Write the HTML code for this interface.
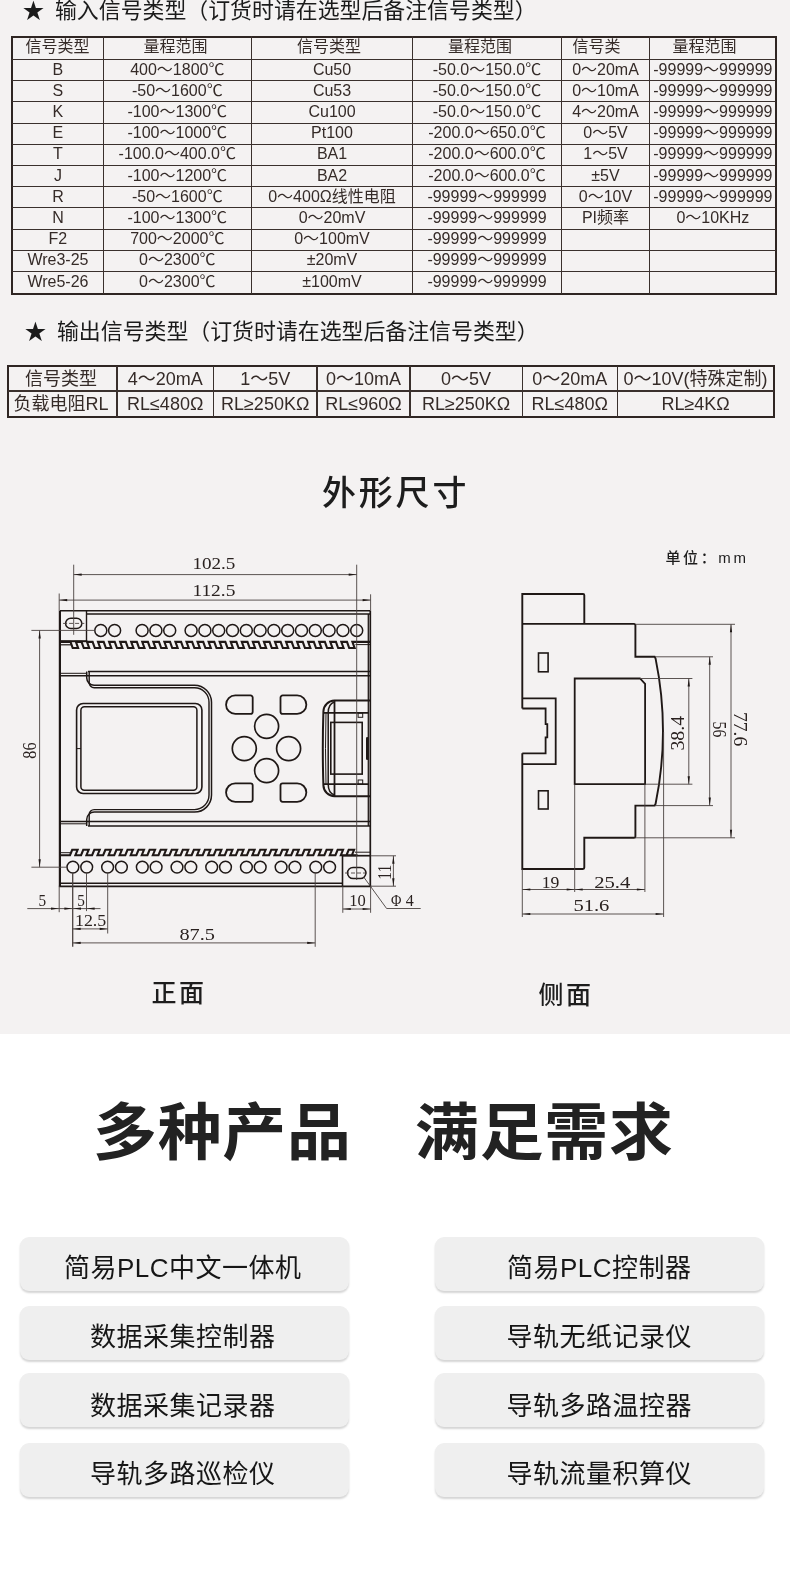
<!DOCTYPE html>
<html lang="zh-CN"><head><meta charset="utf-8"><title>规格参数</title><style>
*{margin:0;padding:0;box-sizing:border-box}
html,body{width:790px;height:1584px;overflow:hidden;background:#fff}
body{position:relative;font-family:"Liberation Sans","Noto Sans CJK SC",sans-serif;color:#2b2320}
.grey{position:absolute;left:0;top:0;width:790px;height:1033.7px;background:#f4f2f2}
.ttl{position:absolute;white-space:nowrap;font-size:21.9px;line-height:26px;color:#1b1b1b;letter-spacing:0;word-spacing:4.5px}
.tb{position:absolute;border:2px solid #2f2623}
.ln{position:absolute;background:#3a302d}
.c{position:absolute;white-space:nowrap;text-align:center;color:#352b28}
.t1 .c{font-size:16px;line-height:20px;height:20px}
.t2 .c{font-size:18px;line-height:22px;height:22px}
.h2{position:absolute;white-space:nowrap;color:#1d1d1d;font-weight:500}
.big{position:absolute;white-space:nowrap;font-weight:700;color:#222;font-size:62px;line-height:70px;letter-spacing:0.8px;transform:scaleX(1.03);transform-origin:0 0}
.btn{position:absolute;width:329px;height:53.5px;border-radius:9px;background:#efefef;box-shadow:0 2px 2px rgba(0,0,0,.17)}
.bt{position:absolute;width:329px;height:30px;text-align:center;font-size:26px;line-height:30px;color:#161616;letter-spacing:.5px;white-space:nowrap}
svg{position:absolute;left:0;top:0}
svg text{font-family:"Liberation Serif","Noto Serif CJK SC",serif;fill:#2a2220}
</style></head><body>
<div id="pg" style="position:absolute;left:0;top:0;width:790px;height:1584px;will-change:transform">
<div class="grey"></div>
<div class="ttl" style="left:22.5px;top:-2px">★ 输入信号类型（订货时请在选型后备注信号类型）</div>
<div class="ttl" style="left:24.5px;top:319px">★ 输出信号类型（订货时请在选型后备注信号类型）</div>
<div class="t1">
<div class="tb" style="left:11.4px;top:36px;width:765.6px;height:258.6px"></div>
<div class="ln" style="left:102.8px;top:36px;width:1px;height:257.6px"></div>
<div class="ln" style="left:250.8px;top:36px;width:1px;height:257.6px"></div>
<div class="ln" style="left:412.2px;top:36px;width:1px;height:257.6px"></div>
<div class="ln" style="left:560.8px;top:36px;width:1px;height:257.6px"></div>
<div class="ln" style="left:649.3px;top:36px;width:1px;height:257.6px"></div>
<div class="ln" style="left:12.4px;top:59.0px;width:763.6px;height:1px"></div>
<div class="ln" style="left:12.4px;top:80.2px;width:763.6px;height:1px"></div>
<div class="ln" style="left:12.4px;top:101.4px;width:763.6px;height:1px"></div>
<div class="ln" style="left:12.4px;top:122.6px;width:763.6px;height:1px"></div>
<div class="ln" style="left:12.4px;top:143.8px;width:763.6px;height:1px"></div>
<div class="ln" style="left:12.4px;top:165.0px;width:763.6px;height:1px"></div>
<div class="ln" style="left:12.4px;top:186.2px;width:763.6px;height:1px"></div>
<div class="ln" style="left:12.4px;top:207.4px;width:763.6px;height:1px"></div>
<div class="ln" style="left:12.4px;top:228.6px;width:763.6px;height:1px"></div>
<div class="ln" style="left:12.4px;top:249.8px;width:763.6px;height:1px"></div>
<div class="ln" style="left:12.4px;top:271.0px;width:763.6px;height:1px"></div>
<div class="c" style="left:-42.4px;width:200px;top:36.5px">信号类型</div>
<div class="c" style="left:75.4px;width:200px;top:36.5px">量程范围</div>
<div class="c" style="left:229.1px;width:200px;top:36.5px">信号类型</div>
<div class="c" style="left:379.9px;width:200px;top:36.5px">量程范围</div>
<div class="c" style="left:496.5px;width:200px;top:36.5px">信号类</div>
<div class="c" style="left:604.6px;width:200px;top:36.5px">量程范围</div>
<div class="c" style="left:-42.1px;width:200px;top:59.6px">B</div>
<div class="c" style="left:77.3px;width:200px;top:59.6px">400～1800℃</div>
<div class="c" style="left:232.0px;width:200px;top:59.6px">Cu50</div>
<div class="c" style="left:387.0px;width:200px;top:59.6px">-50.0～150.0℃</div>
<div class="c" style="left:505.5px;width:200px;top:59.6px">0～20mA</div>
<div class="c" style="left:612.9px;width:200px;top:59.6px">-99999～999999</div>
<div class="c" style="left:-42.1px;width:200px;top:80.8px">S</div>
<div class="c" style="left:77.3px;width:200px;top:80.8px">-50～1600℃</div>
<div class="c" style="left:232.0px;width:200px;top:80.8px">Cu53</div>
<div class="c" style="left:387.0px;width:200px;top:80.8px">-50.0～150.0℃</div>
<div class="c" style="left:505.5px;width:200px;top:80.8px">0～10mA</div>
<div class="c" style="left:612.9px;width:200px;top:80.8px">-99999～999999</div>
<div class="c" style="left:-42.1px;width:200px;top:102.0px">K</div>
<div class="c" style="left:77.3px;width:200px;top:102.0px">-100～1300℃</div>
<div class="c" style="left:232.0px;width:200px;top:102.0px">Cu100</div>
<div class="c" style="left:387.0px;width:200px;top:102.0px">-50.0～150.0℃</div>
<div class="c" style="left:505.5px;width:200px;top:102.0px">4～20mA</div>
<div class="c" style="left:612.9px;width:200px;top:102.0px">-99999～999999</div>
<div class="c" style="left:-42.1px;width:200px;top:123.2px">E</div>
<div class="c" style="left:77.3px;width:200px;top:123.2px">-100～1000℃</div>
<div class="c" style="left:232.0px;width:200px;top:123.2px">Pt100</div>
<div class="c" style="left:387.0px;width:200px;top:123.2px">-200.0～650.0℃</div>
<div class="c" style="left:505.5px;width:200px;top:123.2px">0～5V</div>
<div class="c" style="left:612.9px;width:200px;top:123.2px">-99999～999999</div>
<div class="c" style="left:-42.1px;width:200px;top:144.4px">T</div>
<div class="c" style="left:77.3px;width:200px;top:144.4px">-100.0～400.0℃</div>
<div class="c" style="left:232.0px;width:200px;top:144.4px">BA1</div>
<div class="c" style="left:387.0px;width:200px;top:144.4px">-200.0～600.0℃</div>
<div class="c" style="left:505.5px;width:200px;top:144.4px">1～5V</div>
<div class="c" style="left:612.9px;width:200px;top:144.4px">-99999～999999</div>
<div class="c" style="left:-42.1px;width:200px;top:165.6px">J</div>
<div class="c" style="left:77.3px;width:200px;top:165.6px">-100～1200℃</div>
<div class="c" style="left:232.0px;width:200px;top:165.6px">BA2</div>
<div class="c" style="left:387.0px;width:200px;top:165.6px">-200.0～600.0℃</div>
<div class="c" style="left:505.5px;width:200px;top:165.6px">±5V</div>
<div class="c" style="left:612.9px;width:200px;top:165.6px">-99999～999999</div>
<div class="c" style="left:-42.1px;width:200px;top:186.8px">R</div>
<div class="c" style="left:77.3px;width:200px;top:186.8px">-50～1600℃</div>
<div class="c" style="left:232.0px;width:200px;top:186.8px">0～400Ω线性电阻</div>
<div class="c" style="left:387.0px;width:200px;top:186.8px">-99999～999999</div>
<div class="c" style="left:505.5px;width:200px;top:186.8px">0～10V</div>
<div class="c" style="left:612.9px;width:200px;top:186.8px">-99999～999999</div>
<div class="c" style="left:-42.1px;width:200px;top:208.0px">N</div>
<div class="c" style="left:77.3px;width:200px;top:208.0px">-100～1300℃</div>
<div class="c" style="left:232.0px;width:200px;top:208.0px">0～20mV</div>
<div class="c" style="left:387.0px;width:200px;top:208.0px">-99999～999999</div>
<div class="c" style="left:505.5px;width:200px;top:208.0px">PI频率</div>
<div class="c" style="left:612.9px;width:200px;top:208.0px">0～10KHz</div>
<div class="c" style="left:-42.1px;width:200px;top:229.2px">F2</div>
<div class="c" style="left:77.3px;width:200px;top:229.2px">700～2000℃</div>
<div class="c" style="left:232.0px;width:200px;top:229.2px">0～100mV</div>
<div class="c" style="left:387.0px;width:200px;top:229.2px">-99999～999999</div>
<div class="c" style="left:-42.1px;width:200px;top:250.4px">Wre3-25</div>
<div class="c" style="left:77.3px;width:200px;top:250.4px">0～2300℃</div>
<div class="c" style="left:232.0px;width:200px;top:250.4px">±20mV</div>
<div class="c" style="left:387.0px;width:200px;top:250.4px">-99999～999999</div>
<div class="c" style="left:-42.1px;width:200px;top:271.6px">Wre5-26</div>
<div class="c" style="left:77.3px;width:200px;top:271.6px">0～2300℃</div>
<div class="c" style="left:232.0px;width:200px;top:271.6px">±100mV</div>
<div class="c" style="left:387.0px;width:200px;top:271.6px">-99999～999999</div>
</div>
<div class="t2">
<div class="tb" style="left:7.4px;top:364.8px;width:767.6px;height:53.7px"></div>
<div class="ln" style="left:116.2px;top:365.8px;width:1.5px;height:51.7px"></div>
<div class="ln" style="left:212.8px;top:365.8px;width:1.5px;height:51.7px"></div>
<div class="ln" style="left:316.2px;top:365.8px;width:1.5px;height:51.7px"></div>
<div class="ln" style="left:409.2px;top:365.8px;width:1.5px;height:51.7px"></div>
<div class="ln" style="left:521.5px;top:365.8px;width:1.5px;height:51.7px"></div>
<div class="ln" style="left:616.5px;top:365.8px;width:1.5px;height:51.7px"></div>
<div class="ln" style="left:8.4px;top:390.1px;width:765.6px;height:1.5px"></div>
<div class="c" style="left:-39.0px;width:200px;top:367.6px">信号类型</div>
<div class="c" style="left:65.2px;width:200px;top:367.6px">4～20mA</div>
<div class="c" style="left:165.2px;width:200px;top:367.6px">1～5V</div>
<div class="c" style="left:263.5px;width:200px;top:367.6px">0～10mA</div>
<div class="c" style="left:366.1px;width:200px;top:367.6px">0～5V</div>
<div class="c" style="left:469.8px;width:200px;top:367.6px">0～20mA</div>
<div class="c" style="left:595.6px;width:200px;top:367.6px">0～10V(特殊定制)</div>
<div class="c" style="left:-39.0px;width:200px;top:393.4px">负载电阻RL</div>
<div class="c" style="left:65.2px;width:200px;top:393.4px">RL≤480Ω</div>
<div class="c" style="left:165.2px;width:200px;top:393.4px">RL≥250KΩ</div>
<div class="c" style="left:263.5px;width:200px;top:393.4px">RL≤960Ω</div>
<div class="c" style="left:366.1px;width:200px;top:393.4px">RL≥250KΩ</div>
<div class="c" style="left:469.8px;width:200px;top:393.4px">RL≤480Ω</div>
<div class="c" style="left:595.6px;width:200px;top:393.4px">RL≥4KΩ</div>
</div>
<div class="h2" style="left:322px;top:470.5px;font-size:34px;line-height:44px;letter-spacing:2.8px">外形尺寸</div>
<div class="h2" style="left:665.5px;top:547px;font-size:15px;line-height:22px;letter-spacing:2.6px">单位：mm</div>
<div class="h2" style="left:151.5px;top:976.5px;font-size:25px;line-height:32px;letter-spacing:2.5px;font-weight:500">正面</div>
<div class="h2" style="left:538.5px;top:978.5px;font-size:25px;line-height:32px;letter-spacing:2.5px;font-weight:500">侧面</div>
<svg width="790" height="1584" viewBox="0 0 790 1584">
<line x1="59.9" y1="610.8" x2="59.9" y2="886.2" stroke="#1f1816" stroke-width="2.2" />
<line x1="370.3" y1="610.8" x2="370.3" y2="886.2" stroke="#1f1816" stroke-width="1.7" />
<line x1="368.3" y1="614.0" x2="368.3" y2="826.0" stroke="#1f1816" stroke-width="1.3" />
<line x1="59.9" y1="610.8" x2="370.2" y2="610.8" stroke="#1f1816" stroke-width="1.4" />
<line x1="86.5" y1="614.0" x2="370.2" y2="614.0" stroke="#1f1816" stroke-width="1.6" />
<line x1="58.9" y1="886.4" x2="371.2" y2="886.4" stroke="#1f1816" stroke-width="1.8" />
<line x1="59.9" y1="883.3" x2="342.5" y2="883.3" stroke="#1f1816" stroke-width="1.5" />
<line x1="355.0" y1="852.2" x2="370.2" y2="852.2" stroke="#1f1816" stroke-width="1.0" />
<line x1="355.5" y1="644.6" x2="370.2" y2="644.6" stroke="#1f1816" stroke-width="1.0" />
<line x1="86.5" y1="610.8" x2="86.5" y2="641.3" stroke="#1f1816" stroke-width="1.4" />
<line x1="59.9" y1="641.2" x2="87.3" y2="641.2" stroke="#1f1816" stroke-width="2.0" />
<line x1="59.9" y1="644.8" x2="71.5" y2="644.8" stroke="#1f1816" stroke-width="1.2" />
<path d="M70.8,618.2 H76.6 A5.2,5.2 0 0 1 76.6,628.6 H70.8 A5.2,5.2 0 0 1 70.8,618.2 Z" fill="none" stroke="#1f1816" stroke-width="1.5" />
<line x1="63.1" y1="623.4" x2="84.3" y2="623.4" stroke="#4a423f" stroke-width="0.9" stroke-dasharray="4 2"/>
<circle cx="100.8" cy="630.4" r="6.0" fill="none" stroke="#1f1816" stroke-width="1.5"/>
<circle cx="114.6" cy="630.4" r="6.0" fill="none" stroke="#1f1816" stroke-width="1.5"/>
<circle cx="142.1" cy="630.4" r="6.0" fill="none" stroke="#1f1816" stroke-width="1.5"/>
<circle cx="155.9" cy="630.4" r="6.0" fill="none" stroke="#1f1816" stroke-width="1.5"/>
<circle cx="169.7" cy="630.4" r="6.0" fill="none" stroke="#1f1816" stroke-width="1.5"/>
<circle cx="191.1" cy="630.4" r="6.0" fill="none" stroke="#1f1816" stroke-width="1.5"/>
<circle cx="204.9" cy="630.4" r="6.0" fill="none" stroke="#1f1816" stroke-width="1.5"/>
<circle cx="218.7" cy="630.4" r="6.0" fill="none" stroke="#1f1816" stroke-width="1.5"/>
<circle cx="232.5" cy="630.4" r="6.0" fill="none" stroke="#1f1816" stroke-width="1.5"/>
<circle cx="246.3" cy="630.4" r="6.0" fill="none" stroke="#1f1816" stroke-width="1.5"/>
<circle cx="260.1" cy="630.4" r="6.0" fill="none" stroke="#1f1816" stroke-width="1.5"/>
<circle cx="273.9" cy="630.4" r="6.0" fill="none" stroke="#1f1816" stroke-width="1.5"/>
<circle cx="287.7" cy="630.4" r="6.0" fill="none" stroke="#1f1816" stroke-width="1.5"/>
<circle cx="301.5" cy="630.4" r="6.0" fill="none" stroke="#1f1816" stroke-width="1.5"/>
<circle cx="315.3" cy="630.4" r="6.0" fill="none" stroke="#1f1816" stroke-width="1.5"/>
<circle cx="329.1" cy="630.4" r="6.0" fill="none" stroke="#1f1816" stroke-width="1.5"/>
<circle cx="342.9" cy="630.4" r="6.0" fill="none" stroke="#1f1816" stroke-width="1.5"/>
<circle cx="356.7" cy="630.4" r="6.0" fill="none" stroke="#1f1816" stroke-width="1.5"/>
<path d="M59.9,641.9 H70.50 L72.70,648.0 H78.10 L75.90,641.9 H81.56 L83.76,648.0 H89.16 L86.96,641.9 H92.62 L94.82,648.0 H100.22 L98.02,641.9 H103.68 L105.88,648.0 H111.28 L109.08,641.9 H114.74 L116.94,648.0 H122.34 L120.14,641.9 H125.80 L128.00,648.0 H133.40 L131.20,641.9 H136.86 L139.06,648.0 H144.46 L142.26,641.9 H147.92 L150.12,648.0 H155.52 L153.32,641.9 H158.98 L161.18,648.0 H166.58 L164.38,641.9 H170.04 L172.24,648.0 H177.64 L175.44,641.9 H181.10 L183.30,648.0 H188.70 L186.50,641.9 H192.16 L194.36,648.0 H199.76 L197.56,641.9 H203.22 L205.42,648.0 H210.82 L208.62,641.9 H214.28 L216.48,648.0 H221.88 L219.68,641.9 H225.34 L227.54,648.0 H232.94 L230.74,641.9 H236.40 L238.60,648.0 H244.00 L241.80,641.9 H247.46 L249.66,648.0 H255.06 L252.86,641.9 H258.52 L260.72,648.0 H266.12 L263.92,641.9 H269.58 L271.78,648.0 H277.18 L274.98,641.9 H280.64 L282.84,648.0 H288.24 L286.04,641.9 H291.70 L293.90,648.0 H299.30 L297.10,641.9 H302.76 L304.96,648.0 H310.36 L308.16,641.9 H313.82 L316.02,648.0 H321.42 L319.22,641.9 H324.88 L327.08,648.0 H332.48 L330.28,641.9 H335.94 L338.14,648.0 H343.54 L341.34,641.9 H347.00 L349.20,648.0 H354.60 L352.40,641.9 H358.06 H370.2" fill="none" stroke="#1f1816" stroke-width="2.1" stroke-linejoin="miter"/>
<path d="M59.9,855.2 H70.00 L72.20,849.8 H77.60 L75.40,855.2 H81.06 L83.26,849.8 H88.66 L86.46,855.2 H92.12 L94.32,849.8 H99.72 L97.52,855.2 H103.18 L105.38,849.8 H110.78 L108.58,855.2 H114.24 L116.44,849.8 H121.84 L119.64,855.2 H125.30 L127.50,849.8 H132.90 L130.70,855.2 H136.36 L138.56,849.8 H143.96 L141.76,855.2 H147.42 L149.62,849.8 H155.02 L152.82,855.2 H158.48 L160.68,849.8 H166.08 L163.88,855.2 H169.54 L171.74,849.8 H177.14 L174.94,855.2 H180.60 L182.80,849.8 H188.20 L186.00,855.2 H191.66 L193.86,849.8 H199.26 L197.06,855.2 H202.72 L204.92,849.8 H210.32 L208.12,855.2 H213.78 L215.98,849.8 H221.38 L219.18,855.2 H224.84 L227.04,849.8 H232.44 L230.24,855.2 H235.90 L238.10,849.8 H243.50 L241.30,855.2 H246.96 L249.16,849.8 H254.56 L252.36,855.2 H258.02 L260.22,849.8 H265.62 L263.42,855.2 H269.08 L271.28,849.8 H276.68 L274.48,855.2 H280.14 L282.34,849.8 H287.74 L285.54,855.2 H291.20 L293.40,849.8 H298.80 L296.60,855.2 H302.26 L304.46,849.8 H309.86 L307.66,855.2 H313.32 L315.52,849.8 H320.92 L318.72,855.2 H324.38 L326.58,849.8 H331.98 L329.78,855.2 H335.44 L337.64,849.8 H343.04 L340.84,855.2 H346.50 L348.70,849.8 H354.10 L351.90,855.2 H357.56 H342.8" fill="none" stroke="#1f1816" stroke-width="2.1" stroke-linejoin="miter"/>
<line x1="59.9" y1="852.7" x2="70.0" y2="852.7" stroke="#1f1816" stroke-width="1.0" />
<line x1="88.0" y1="671.4" x2="370.2" y2="671.4" stroke="#1f1816" stroke-width="1.5" />
<line x1="59.9" y1="675.7" x2="370.2" y2="675.7" stroke="#1f1816" stroke-width="1.5" />
<line x1="59.9" y1="673.3" x2="86.7" y2="673.3" stroke="#1f1816" stroke-width="1.0" />
<line x1="88.0" y1="826.0" x2="370.2" y2="826.0" stroke="#1f1816" stroke-width="1.5" />
<line x1="59.9" y1="821.6" x2="370.2" y2="821.6" stroke="#1f1816" stroke-width="1.5" />
<line x1="59.9" y1="823.8" x2="86.7" y2="823.8" stroke="#1f1816" stroke-width="1.0" />
<path d="M86.7,671.4 V677.8 A7.5,7.5 0 0 0 94.2,685.3 H194.5 A17,17 0 0 1 211.5,702.3 V795.1 A17,17 0 0 1 194.5,812.1 H94.2 A7.5,7.5 0 0 0 86.7,819.6 V826" fill="none" stroke="#1f1816" stroke-width="1.5" />
<path d="M89.2,671.4 V682.8 A5.0,5.0 0 0 0 94.2,687.8 H194.5 A14.5,14.5 0 0 1 209.0,702.3 V795.1 A14.5,14.5 0 0 1 194.5,809.6 H94.2 A5.0,5.0 0 0 0 89.2,814.6 V826" fill="none" stroke="#1f1816" stroke-width="1.4" />
<rect x="76.6" y="703.5" width="125.3" height="90" rx="6.5" ry="6.5" fill="none" stroke="#1f1816" stroke-width="1.6"/>
<rect x="80.9" y="706.8" width="116" height="83.4" rx="3.5" ry="3.5" fill="none" stroke="#1f1816" stroke-width="1.5"/>
<line x1="76.6" y1="748.6" x2="80.9" y2="748.6" stroke="#1f1816" stroke-width="1.0" />
<path d="M235.3,695.4 H250.5 A2.2,2.2 0 0 1 252.7,697.6 V711.7 A2.2,2.2 0 0 1 250.5,713.9 H235.3 A9.25,9.25 0 0 1 235.3,695.4 Z" fill="none" stroke="#1f1816" stroke-width="1.8" />
<path d="M297.1,695.4 H282.7 A2.2,2.2 0 0 0 280.5,697.6 V711.7 A2.2,2.2 0 0 0 282.7,713.9 H297.1 A9.25,9.25 0 0 0 297.1,695.4 Z" fill="none" stroke="#1f1816" stroke-width="1.8" />
<path d="M235.3,783.3 H250.5 A2.2,2.2 0 0 1 252.7,785.5 V799.6 A2.2,2.2 0 0 1 250.5,801.8 H235.3 A9.25,9.25 0 0 1 235.3,783.3 Z" fill="none" stroke="#1f1816" stroke-width="1.8" />
<path d="M297.1,783.3 H282.7 A2.2,2.2 0 0 0 280.5,785.5 V799.6 A2.2,2.2 0 0 0 282.7,801.8 H297.1 A9.25,9.25 0 0 0 297.1,783.3 Z" fill="none" stroke="#1f1816" stroke-width="1.8" />
<circle cx="266.6" cy="726.3" r="12.0" fill="none" stroke="#1f1816" stroke-width="1.7"/>
<circle cx="244.3" cy="748.6" r="12.0" fill="none" stroke="#1f1816" stroke-width="1.7"/>
<circle cx="288.6" cy="748.6" r="12.0" fill="none" stroke="#1f1816" stroke-width="1.7"/>
<circle cx="266.6" cy="770.6" r="12.0" fill="none" stroke="#1f1816" stroke-width="1.7"/>
<path d="M370.2,700.6 H334.5 A11.3,11.3 0 0 0 323.4,711.5 Q322.2,748.5 323.4,785.4 A11.3,11.3 0 0 0 334.5,796.3 H370.2" fill="none" stroke="#1f1816" stroke-width="2.0" />
<line x1="323.7" y1="712.8" x2="368.7" y2="712.8" stroke="#1f1816" stroke-width="1.8" />
<line x1="323.7" y1="784.2" x2="368.7" y2="784.2" stroke="#1f1816" stroke-width="1.8" />
<line x1="334.5" y1="700.6" x2="334.5" y2="796.3" stroke="#1f1816" stroke-width="1.8" />
<path d="M334.5,702 Q328.2,704 328.2,712.8 V784.2 Q328.2,793 334.5,795" fill="none" stroke="#1f1816" stroke-width="1.5" />
<path d="M326,712.8 Q325,748.5 326,784.2" fill="none" stroke="#1f1816" stroke-width="1.0" />
<rect x="330.8" y="722.4" width="31.4" height="51.7" fill="none" stroke="#1f1816" stroke-width="1.6"/>
<rect x="358.1" y="713.1" width="4.6" height="4.2" fill="none" stroke="#1f1816" stroke-width="1"/>
<rect x="358.1" y="780.0" width="4.6" height="4.2" fill="none" stroke="#1f1816" stroke-width="1"/>
<rect x="366" y="737.1" width="2.4" height="22.8" rx="1.2" fill="#1f1816"/>
<circle cx="72.9" cy="867.1" r="5.9" fill="none" stroke="#1f1816" stroke-width="1.5"/>
<circle cx="86.7" cy="867.1" r="5.9" fill="none" stroke="#1f1816" stroke-width="1.5"/>
<circle cx="107.6" cy="867.1" r="5.9" fill="none" stroke="#1f1816" stroke-width="1.5"/>
<circle cx="121.4" cy="867.1" r="5.9" fill="none" stroke="#1f1816" stroke-width="1.5"/>
<circle cx="142.3" cy="867.1" r="5.9" fill="none" stroke="#1f1816" stroke-width="1.5"/>
<circle cx="156.1" cy="867.1" r="5.9" fill="none" stroke="#1f1816" stroke-width="1.5"/>
<circle cx="177.0" cy="867.1" r="5.9" fill="none" stroke="#1f1816" stroke-width="1.5"/>
<circle cx="190.8" cy="867.1" r="5.9" fill="none" stroke="#1f1816" stroke-width="1.5"/>
<circle cx="211.7" cy="867.1" r="5.9" fill="none" stroke="#1f1816" stroke-width="1.5"/>
<circle cx="225.5" cy="867.1" r="5.9" fill="none" stroke="#1f1816" stroke-width="1.5"/>
<circle cx="246.4" cy="867.1" r="5.9" fill="none" stroke="#1f1816" stroke-width="1.5"/>
<circle cx="260.2" cy="867.1" r="5.9" fill="none" stroke="#1f1816" stroke-width="1.5"/>
<circle cx="281.1" cy="867.1" r="5.9" fill="none" stroke="#1f1816" stroke-width="1.5"/>
<circle cx="294.9" cy="867.1" r="5.9" fill="none" stroke="#1f1816" stroke-width="1.5"/>
<circle cx="315.8" cy="867.1" r="5.9" fill="none" stroke="#1f1816" stroke-width="1.5"/>
<circle cx="329.6" cy="867.1" r="5.9" fill="none" stroke="#1f1816" stroke-width="1.5"/>
<path d="M342.5,855.7 V886.4" fill="none" stroke="#1f1816" stroke-width="1.6" />
<line x1="342.5" y1="855.7" x2="370.2" y2="855.7" stroke="#1f1816" stroke-width="1.7" />
<path d="M353.1,867.4 H360.3 A5.6,5.6 0 0 1 360.3,878.6 H353.1 A5.6,5.6 0 0 1 353.1,867.4 Z" fill="none" stroke="#1f1816" stroke-width="1.5" />
<line x1="345.0" y1="873.0" x2="368.4" y2="873.0" stroke="#4a423f" stroke-width="0.9" stroke-dasharray="4 2"/>
<line x1="73.7" y1="564.7" x2="73.7" y2="634.8" stroke="#4a423f" stroke-width="0.9" />
<line x1="356.7" y1="564.7" x2="356.7" y2="880.0" stroke="#4a423f" stroke-width="0.9" />
<line x1="73.7" y1="574.6" x2="356.7" y2="574.6" stroke="#4a423f" stroke-width="0.9" />
<polygon points="73.7,574.6 81.7,573.5 81.7,575.8" fill="#1f1816"/>
<polygon points="356.7,574.6 348.7,573.5 348.7,575.8" fill="#1f1816"/>
<line x1="59.2" y1="593.5" x2="59.2" y2="610.8" stroke="#4a423f" stroke-width="0.9" />
<line x1="370.6" y1="594.3" x2="370.6" y2="610.8" stroke="#4a423f" stroke-width="0.9" />
<line x1="59.2" y1="600.1" x2="370.6" y2="600.1" stroke="#4a423f" stroke-width="0.9" />
<polygon points="59.2,600.1 67.2,599.0 67.2,601.2" fill="#1f1816"/>
<polygon points="370.6,600.1 362.6,599.0 362.6,601.2" fill="#1f1816"/>
<line x1="31.4" y1="630.4" x2="94.7" y2="630.4" stroke="#4a423f" stroke-width="0.9" />
<line x1="31.4" y1="867.2" x2="67.0" y2="867.2" stroke="#4a423f" stroke-width="0.9" />
<line x1="39.6" y1="630.4" x2="39.6" y2="867.2" stroke="#4a423f" stroke-width="0.9" />
<polygon points="39.6,630.4 38.5,638.4 40.8,638.4" fill="#1f1816"/>
<polygon points="39.6,867.2 38.5,859.2 40.8,859.2" fill="#1f1816"/>
<line x1="27.3" y1="908.6" x2="100.5" y2="908.6" stroke="#4a423f" stroke-width="0.9" />
<polygon points="59.0,908.6 51.0,907.5 51.0,909.8" fill="#1f1816"/>
<polygon points="72.4,908.6 64.4,907.5 64.4,909.8" fill="#1f1816"/>
<polygon points="73.0,908.6 81.0,907.5 81.0,909.8" fill="#1f1816"/>
<polygon points="86.6,908.6 94.6,907.5 94.6,909.8" fill="#1f1816"/>
<line x1="59.2" y1="886.2" x2="59.2" y2="912.2" stroke="#4a423f" stroke-width="0.9" />
<line x1="72.7" y1="873.0" x2="72.7" y2="946.8" stroke="#4a423f" stroke-width="1.3" />
<line x1="86.5" y1="873.0" x2="86.5" y2="911.1" stroke="#4a423f" stroke-width="0.9" />
<line x1="107.7" y1="873.0" x2="107.7" y2="933.5" stroke="#4a423f" stroke-width="0.9" />
<line x1="72.7" y1="928.9" x2="107.7" y2="928.9" stroke="#4a423f" stroke-width="0.9" />
<polygon points="72.7,928.9 80.7,927.8 80.7,930.0" fill="#1f1816"/>
<polygon points="107.7,928.9 99.7,927.8 99.7,930.0" fill="#1f1816"/>
<line x1="315.2" y1="873.0" x2="315.2" y2="946.8" stroke="#4a423f" stroke-width="0.9" />
<line x1="72.7" y1="942.9" x2="315.2" y2="942.9" stroke="#4a423f" stroke-width="0.9" />
<polygon points="72.7,942.9 80.7,941.8 80.7,944.0" fill="#1f1816"/>
<polygon points="315.2,942.9 307.2,941.8 307.2,944.0" fill="#1f1816"/>
<line x1="342.8" y1="886.2" x2="342.8" y2="912.8" stroke="#4a423f" stroke-width="0.9" />
<line x1="370.6" y1="886.2" x2="370.6" y2="912.8" stroke="#4a423f" stroke-width="0.9" />
<line x1="342.8" y1="909.0" x2="370.6" y2="909.0" stroke="#4a423f" stroke-width="0.9" />
<polygon points="342.8,909.0 350.8,907.9 350.8,910.1" fill="#1f1816"/>
<polygon points="370.6,909.0 362.6,907.9 362.6,910.1" fill="#1f1816"/>
<line x1="370.6" y1="855.8" x2="396.0" y2="855.8" stroke="#4a423f" stroke-width="0.9" />
<line x1="370.6" y1="886.2" x2="396.0" y2="886.2" stroke="#4a423f" stroke-width="0.9" />
<line x1="393.4" y1="855.8" x2="393.4" y2="886.2" stroke="#4a423f" stroke-width="0.9" />
<polygon points="393.4,855.8 392.2,863.8 394.5,863.8" fill="#1f1816"/>
<polygon points="393.4,886.2 392.2,878.2 394.5,878.2" fill="#1f1816"/>
<path d="M363.7,877 L386.6,908.5 H420.7" fill="none" stroke="#4a423f" stroke-width="0.9" />
<polygon points="364.3,876.0 364.3,876.0 364.3,876.0" fill="#1f1816"/>
<text x="213.9" y="569.4" font-size="17" text-anchor="middle" textLength="43.0" lengthAdjust="spacingAndGlyphs">102.5</text>
<text x="213.9" y="595.6" font-size="17" text-anchor="middle" textLength="43.0" lengthAdjust="spacingAndGlyphs">112.5</text>
<text x="42.2" y="906.1" font-size="17" text-anchor="middle" textLength="7.6" lengthAdjust="spacingAndGlyphs">5</text>
<text x="81.0" y="906.1" font-size="17" text-anchor="middle" textLength="7.6" lengthAdjust="spacingAndGlyphs">5</text>
<text x="90.6" y="926.3" font-size="17" text-anchor="middle" textLength="31.3" lengthAdjust="spacingAndGlyphs">12.5</text>
<text x="197.2" y="939.7" font-size="17" text-anchor="middle" textLength="35.5" lengthAdjust="spacingAndGlyphs">87.5</text>
<text x="357.5" y="906.0" font-size="17" text-anchor="middle" textLength="16.5" lengthAdjust="spacingAndGlyphs">10</text>
<text y="906" font-size="17" text-anchor="middle"><tspan x="396.1" textLength="10.4" lengthAdjust="spacingAndGlyphs">Φ</tspan><tspan x="409.8" textLength="8" lengthAdjust="spacingAndGlyphs">4</tspan></text>
<text transform="translate(29.6,750.6) rotate(-90)" x="0" y="6.5" font-size="19.7" text-anchor="middle" textLength="16.2" lengthAdjust="spacingAndGlyphs">86</text>
<text transform="translate(384.0,872.2) rotate(-90)" x="0" y="6.5" font-size="19.7" text-anchor="middle" textLength="15.0" lengthAdjust="spacingAndGlyphs">11</text>
<path d="M522.3,708.5 V594 H583 a1.3,1.3 0 0 1 1.3,1.3 V623.9" fill="none" stroke="#1f1816" stroke-width="1.9" />
<path d="M522.3,623.9 H634 a1.4,1.4 0 0 1 1.4,1.4 V656.8 H654.6 L655.6,658.6 A364,364 0 0 1 655.6,803.8 L654.6,805.6 H635.4 V836.4 a1.4,1.4 0 0 1 -1.4,1.4 H584.3 V867.6 a1.4,1.4 0 0 1 -1.4,1.4 H522.3 V753.3" fill="none" stroke="#1f1816" stroke-width="1.9" />
<path d="M522.3,698.4 H555.7 V764.2 H522.3" fill="none" stroke="#1f1816" stroke-width="1.8" />
<path d="M522.3,708.5 H545.6 V724.2 H547.3 V737.3 H545.6 V753.3 H522.3" fill="none" stroke="#1f1816" stroke-width="1.8" />
<path d="M574.7,678.5 H640 L645.1,683.9 V784.2 H574.7 Z" fill="none" stroke="#1f1816" stroke-width="1.8" />
<rect x="538.5" y="653" width="9.6" height="18.8" fill="none" stroke="#1f1816" stroke-width="1.6"/>
<rect x="538.5" y="790.8" width="9.6" height="18.2" fill="none" stroke="#1f1816" stroke-width="1.6"/>
<line x1="635.4" y1="624.3" x2="735.0" y2="624.3" stroke="#4a423f" stroke-width="0.9" />
<line x1="655.0" y1="656.8" x2="713.0" y2="656.8" stroke="#4a423f" stroke-width="0.9" />
<line x1="640.0" y1="678.5" x2="692.4" y2="678.5" stroke="#4a423f" stroke-width="0.9" />
<line x1="645.0" y1="784.2" x2="692.4" y2="784.2" stroke="#4a423f" stroke-width="0.9" />
<line x1="655.0" y1="805.6" x2="713.0" y2="805.6" stroke="#4a423f" stroke-width="0.9" />
<line x1="635.4" y1="837.8" x2="735.0" y2="837.8" stroke="#4a423f" stroke-width="0.9" />
<line x1="574.7" y1="784.2" x2="574.7" y2="892.0" stroke="#4a423f" stroke-width="0.9" />
<line x1="644.9" y1="784.2" x2="644.9" y2="892.0" stroke="#4a423f" stroke-width="0.9" />
<line x1="663.6" y1="732.0" x2="663.6" y2="917.0" stroke="#4a423f" stroke-width="0.9" />
<line x1="522.3" y1="869.0" x2="522.3" y2="917.0" stroke="#4a423f" stroke-width="0.9" />
<line x1="688.8" y1="678.5" x2="688.8" y2="784.2" stroke="#4a423f" stroke-width="0.9" />
<polygon points="688.8,678.5 687.6,686.5 689.9,686.5" fill="#1f1816"/>
<polygon points="688.8,784.2 687.6,776.2 689.9,776.2" fill="#1f1816"/>
<line x1="709.7" y1="656.8" x2="709.7" y2="805.6" stroke="#4a423f" stroke-width="0.9" />
<polygon points="709.7,656.8 708.6,664.8 710.9,664.8" fill="#1f1816"/>
<polygon points="709.7,805.6 708.6,797.6 710.9,797.6" fill="#1f1816"/>
<line x1="731.0" y1="624.3" x2="731.0" y2="837.8" stroke="#4a423f" stroke-width="0.9" />
<polygon points="731.0,624.3 729.9,632.3 732.1,632.3" fill="#1f1816"/>
<polygon points="731.0,837.8 729.9,829.8 732.1,829.8" fill="#1f1816"/>
<line x1="522.3" y1="889.5" x2="574.7" y2="889.5" stroke="#4a423f" stroke-width="0.9" />
<polygon points="522.3,889.5 530.3,888.4 530.3,890.6" fill="#1f1816"/>
<polygon points="574.7,889.5 566.7,888.4 566.7,890.6" fill="#1f1816"/>
<line x1="574.7" y1="889.5" x2="644.9" y2="889.5" stroke="#4a423f" stroke-width="0.9" />
<polygon points="574.7,889.5 582.7,888.4 582.7,890.6" fill="#1f1816"/>
<polygon points="644.9,889.5 636.9,888.4 636.9,890.6" fill="#1f1816"/>
<line x1="522.3" y1="914.0" x2="663.6" y2="914.0" stroke="#4a423f" stroke-width="0.9" />
<polygon points="522.3,914.0 530.3,912.9 530.3,915.1" fill="#1f1816"/>
<polygon points="663.6,914.0 655.6,912.9 655.6,915.1" fill="#1f1816"/>
<text x="550.6" y="887.5" font-size="17" text-anchor="middle" textLength="17.7" lengthAdjust="spacingAndGlyphs">19</text>
<text x="612.3" y="887.5" font-size="17" text-anchor="middle" textLength="36.2" lengthAdjust="spacingAndGlyphs">25.4</text>
<text x="591.4" y="911.0" font-size="17" text-anchor="middle" textLength="36.0" lengthAdjust="spacingAndGlyphs">51.6</text>
<text transform="translate(677.4,733.2) rotate(-90)" x="0" y="6.5" font-size="19.7" text-anchor="middle" textLength="34.8" lengthAdjust="spacingAndGlyphs">38.4</text>
<text transform="translate(719.2,729.4) rotate(90)" x="0" y="6.5" font-size="19.7" text-anchor="middle" textLength="15.8" lengthAdjust="spacingAndGlyphs">56</text>
<text transform="translate(740.6,729.1) rotate(90)" x="0" y="6.5" font-size="19.7" text-anchor="middle" textLength="34.2" lengthAdjust="spacingAndGlyphs">77.6</text>
</svg>
<div class="big" style="left:93px;top:1098.6px">多种产品</div>
<div class="big" style="left:415.2px;top:1098.6px">满足需求</div>
<div class="btn" style="left:19.5px;top:1237.2px"></div><div class="bt" style="left:18.2px;top:1253.4px">简易PLC中文一体机</div>
<div class="btn" style="left:434.7px;top:1237.2px"></div><div class="bt" style="left:434.7px;top:1253.4px">简易PLC控制器</div>
<div class="btn" style="left:19.5px;top:1306.1px"></div><div class="bt" style="left:18.2px;top:1321.7px">数据采集控制器</div>
<div class="btn" style="left:434.7px;top:1306.1px"></div><div class="bt" style="left:434.7px;top:1321.7px">导轨无纸记录仪</div>
<div class="btn" style="left:19.5px;top:1373.2px"></div><div class="bt" style="left:18.2px;top:1390.8px">数据采集记录器</div>
<div class="btn" style="left:434.7px;top:1373.2px"></div><div class="bt" style="left:434.7px;top:1390.8px">导轨多路温控器</div>
<div class="btn" style="left:19.5px;top:1443.4px"></div><div class="bt" style="left:18.2px;top:1459.4px">导轨多路巡检仪</div>
<div class="btn" style="left:434.7px;top:1443.4px"></div><div class="bt" style="left:434.7px;top:1459.4px">导轨流量积算仪</div>
</div></body></html>
